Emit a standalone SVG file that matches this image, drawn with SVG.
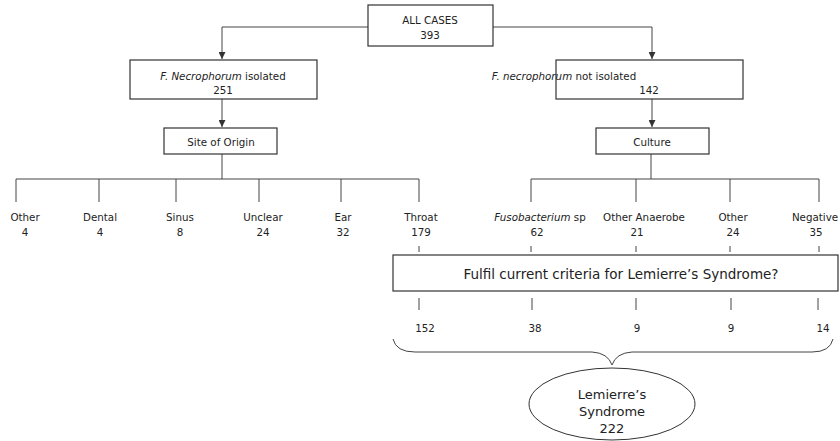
<svg xmlns="http://www.w3.org/2000/svg" width="840" height="441" viewBox="0 0 840 441">
<defs>
<marker id="arr" viewBox="0 0 8 8" refX="8" refY="4" markerWidth="7" markerHeight="7" markerUnits="userSpaceOnUse" orient="auto"><path d="M0,0 L8,4 L0,8 z" fill="#333"/></marker>
<style>
.box{fill:#fff;stroke:#333;stroke-width:1.2}
.ln{fill:none;stroke:#444;stroke-width:1}
text{font-family:"DejaVu Sans","Liberation Sans",sans-serif;fill:#222;font-size:10.3px;text-anchor:middle}
.big{font-size:13.5px}
.ell{font-size:13px}
</style>
</defs>
<rect width="840" height="441" fill="#fff"/>
<g id="connectors">
<path class="ln" d="M368,27 H222 V59" marker-end="url(#arr)"/>
<path class="ln" d="M493,27 H652 V59" marker-end="url(#arr)"/>
<path class="ln" d="M222,99 V127" marker-end="url(#arr)"/>
<path class="ln" d="M652,99 V127" marker-end="url(#arr)"/>
<path class="ln" d="M222,154 V179 M16,202 V179 H419 V202 M99,179 V202 M176,179 V202 M259,179 V202 M341,179 V202"/>
<path class="ln" d="M651,154 V179 M531,202 V179 H819 V202 M636,179 V202 M730,179 V202"/>
<path class="ln" d="M419,246 V252 M531,246 V252 M636,246 V252 M730,246 V252 M819,246 V252"/>
<path class="ln" d="M419,298 V310 M532,298 V310 M636,298 V310 M731,298 V310 M818,298 V310"/>
<path class="ln" d="M393,339 Q396,352 415,352 H592 Q608,353 612,365 Q616,353 632,352 H812 Q830,352 833,339"/>
</g>
<g id="all-cases"><rect class="box" x="368" y="5" width="125" height="41"/><text x="430" y="24">ALL CASES</text><text x="430" y="39">393</text></g>
<g id="isolated"><rect class="box" x="130" y="60" width="187" height="39"/><text x="223" y="80"><tspan font-style="italic">F. Necrophorum</tspan> isolated</text><text x="223" y="94">251</text></g>
<g id="not-isolated"><rect class="box" x="556" y="60" width="187" height="39"/><text x="564" y="80" text-anchor="start"><tspan font-style="italic">F. necrophorum</tspan> not isolated</text><text x="649" y="94">142</text></g>
<g id="site"><rect class="box" x="164" y="128" width="113" height="26"/><text x="221" y="146">Site of Origin</text></g>
<g id="culture"><rect class="box" x="596" y="128" width="113" height="26"/><text x="652" y="146">Culture</text></g>
<g id="other-site"><text x="25" y="221">Other</text><text x="25" y="236">4</text></g>
<g id="dental"><text x="100" y="221">Dental</text><text x="100" y="236">4</text></g>
<g id="sinus"><text x="180" y="221">Sinus</text><text x="180" y="236">8</text></g>
<g id="unclear"><text x="263" y="221">Unclear</text><text x="263" y="236">24</text></g>
<g id="ear"><text x="343" y="221">Ear</text><text x="343" y="236">32</text></g>
<g id="throat"><text x="421" y="221">Throat</text><text x="421" y="236">179</text></g>
<g id="fuso"><text x="540" y="221"><tspan font-style="italic">Fusobacterium</tspan> sp</text><text x="537" y="236">62</text></g>
<g id="other-anaerobe"><text x="644" y="221">Other Anaerobe</text><text x="637" y="236">21</text></g>
<g id="other-culture"><text x="733" y="221">Other</text><text x="733" y="236">24</text></g>
<g id="negative"><text x="815" y="221">Negative</text><text x="816" y="236">35</text></g>
<g id="criteria"><rect class="box" x="393" y="255" width="445" height="36"/><text class="big" x="621" y="279">Fulfil current criteria for Lemierre’s Syndrome?</text></g>
<g id="counts"><text x="425" y="332">152</text><text x="535" y="332">38</text><text x="637" y="332">9</text><text x="731" y="332">9</text><text x="823" y="332">14</text></g>
<g id="lemierre"><ellipse cx="612" cy="404" rx="83" ry="36" fill="#fff" stroke="#333" stroke-width="1"/><text class="ell" x="612" y="399">Lemierre’s</text><text class="ell" x="612" y="416">Syndrome</text><text class="ell" x="612" y="433">222</text></g>
</svg>
